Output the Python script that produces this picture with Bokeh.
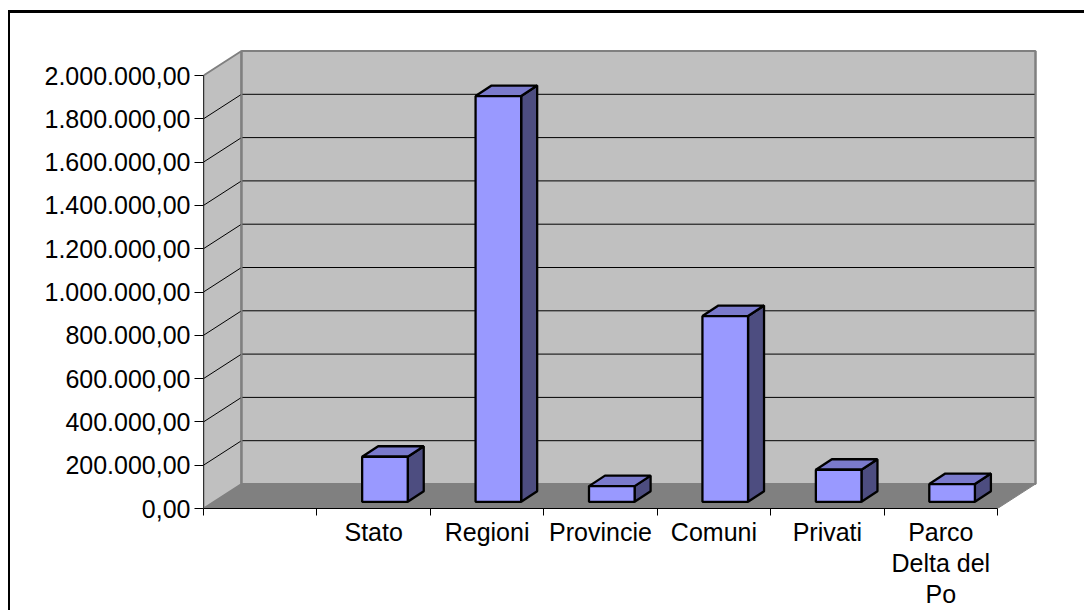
from bokeh.plotting import figure
from bokeh.models import Range1d, FixedTicker, LinearAxis, CustomJSTickFormatter
from bokeh.embed import file_html
from bokeh.resources import INLINE

categories = ["", "Stato", "Regioni", "Provincie", "Comuni", "Privati", "Parco\nDelta del\nPo"]
values = [None, 208000, 1874000, 72500, 858000, 148000, 82000]
value_ticks = [0, 200000, 400000, 600000, 800000, 1000000, 1200000, 1400000, 1600000, 1800000, 2000000]

PX_X = 113.43      # pixels per category
PX_Y = 433 / 2000000  # pixels per value unit
W, H = 1076, 600
LEFT, BOTTOM = 193, 105
frame_w, frame_h = W - LEFT, H - BOTTOM

DX = 38 / PX_X          # depth of the box
DY = 24.5 / PX_Y
BAR_W = 45.6 / PX_X
BAR_DX = 16 / PX_X      # depth of a bar
BAR_DY = 10.5 / PX_Y
BAR_SHIFT_X = 11.3 / PX_X   # bar base offset into the depth
BAR_SHIFT_Y = 6.7 / PX_Y

p = figure(width=W, height=H, output_backend="svg", toolbar_location=None,
           x_range=Range1d(0, frame_w / PX_X), y_range=Range1d(0, frame_h / PX_Y),
           min_border_left=LEFT, min_border_bottom=BOTTOM, min_border_top=0, min_border_right=0,
           background_fill_color="white", border_fill_color="white")
p.outline_line_color = None
p.grid.visible = False
p.margin = (10, 0, 0, 8)
p.styles = {"border-top": "3px solid black", "border-left": "2px solid black"}

n = len(categories)
top = value_ticks[-1]

# floor, left wall, back wall
p.patch([0, DX, n + DX, n], [0, DY, DY, 0], fill_color="#808080", line_color="#808080", line_width=1)
p.patch([0, DX, DX, 0], [0, DY, top + DY, top], fill_color="#C0C0C0", line_color="#808080", line_width=2)
p.quad(left=[DX], right=[n + DX], bottom=[DY], top=[top + DY],
       fill_color="#C0C0C0", line_color="#808080", line_width=2)

# grid lines on walls
for v in value_ticks[1:-1]:
    p.line([0, DX, n + DX], [v, v + DY, v + DY], line_color="#000000", line_width=1)
p.line([DX, DX], [DY, top + DY], line_color="#808080", line_width=2)
p.line([n + DX, n + DX], [DY, top + DY], line_color="#808080", line_width=2)

# bars
for i, (c, v) in enumerate(zip(categories, values)):
    if v is None:
        continue
    x0 = i + 0.5 - BAR_W / 2 + BAR_SHIFT_X
    x1 = x0 + BAR_W
    y0 = BAR_SHIFT_Y
    y1 = y0 + v
    p.patch([x1, x1 + BAR_DX, x1 + BAR_DX, x1], [y0, y0 + BAR_DY, y1 + BAR_DY, y1],
            fill_color="#4D4D80", line_color="black", line_width=2.3)
    p.patch([x0, x0 + BAR_DX, x1 + BAR_DX, x1], [y1, y1 + BAR_DY, y1 + BAR_DY, y1],
            fill_color="#7A7ACC", line_color="black", line_width=2.3)
    p.quad(left=[x0], right=[x1], bottom=[y0], top=[y1],
           fill_color="#9999FF", line_color="black", line_width=2.3)

# value axis
ya = p.yaxis[0]
ya.ticker = FixedTicker(ticks=value_ticks)
ya.bounds = (0, top)
ya.formatter = CustomJSTickFormatter(code="""
    return tick.toLocaleString('de-DE', {minimumFractionDigits: 2, maximumFractionDigits: 2});
""")
ya.major_tick_out = 9
ya.major_tick_in = 0
ya.minor_tick_out = 0
ya.minor_tick_in = 0
ya.major_label_standoff = 4
ya.major_label_text_font = "Liberation Sans"
ya.major_label_text_font_size = "25px"
ya.major_label_text_color = "black"
ya.axis_line_color = "#303030"
ya.major_tick_line_color = "black"

# category axis: first line of every label on the axis, further lines on stacked axes below it
xa = p.xaxis[0]
centers = [i + 0.5 for i in range(n)]
xa.ticker = FixedTicker(ticks=centers, minor_ticks=list(range(n + 1)))
xa.bounds = (0, n)
xa.major_label_overrides = {i + 0.5: c.split("\n")[0] for i, c in enumerate(categories)}
xa.major_tick_out = 0
xa.major_tick_in = 0
xa.minor_tick_out = 7
xa.minor_tick_in = 0
xa.major_label_standoff = 2
xa.major_label_text_font = "Liberation Sans"
xa.major_label_text_font_size = "25px"
xa.major_label_text_color = "black"
xa.axis_line_color = "black"
xa.minor_tick_line_color = "black"

for line_no in (1, 2):
    entries = {i + 0.5: c.split("\n")[line_no] for i, c in enumerate(categories) if c.count("\n") >= line_no}
    extra = LinearAxis(ticker=FixedTicker(ticks=list(entries)), major_label_overrides=entries)
    extra.axis_line_color = None
    extra.major_tick_line_color = None
    extra.minor_tick_line_color = None
    extra.major_tick_out = 0
    extra.major_tick_in = 0
    extra.minor_tick_out = 0
    extra.minor_tick_in = 0
    extra.major_label_standoff = 0
    extra.major_label_text_font = "Liberation Sans"
    extra.major_label_text_font_size = "25px"
    extra.major_label_text_color = "black"
    p.add_layout(extra, "below")

open("out.html", "w").write(file_html(p, INLINE))
